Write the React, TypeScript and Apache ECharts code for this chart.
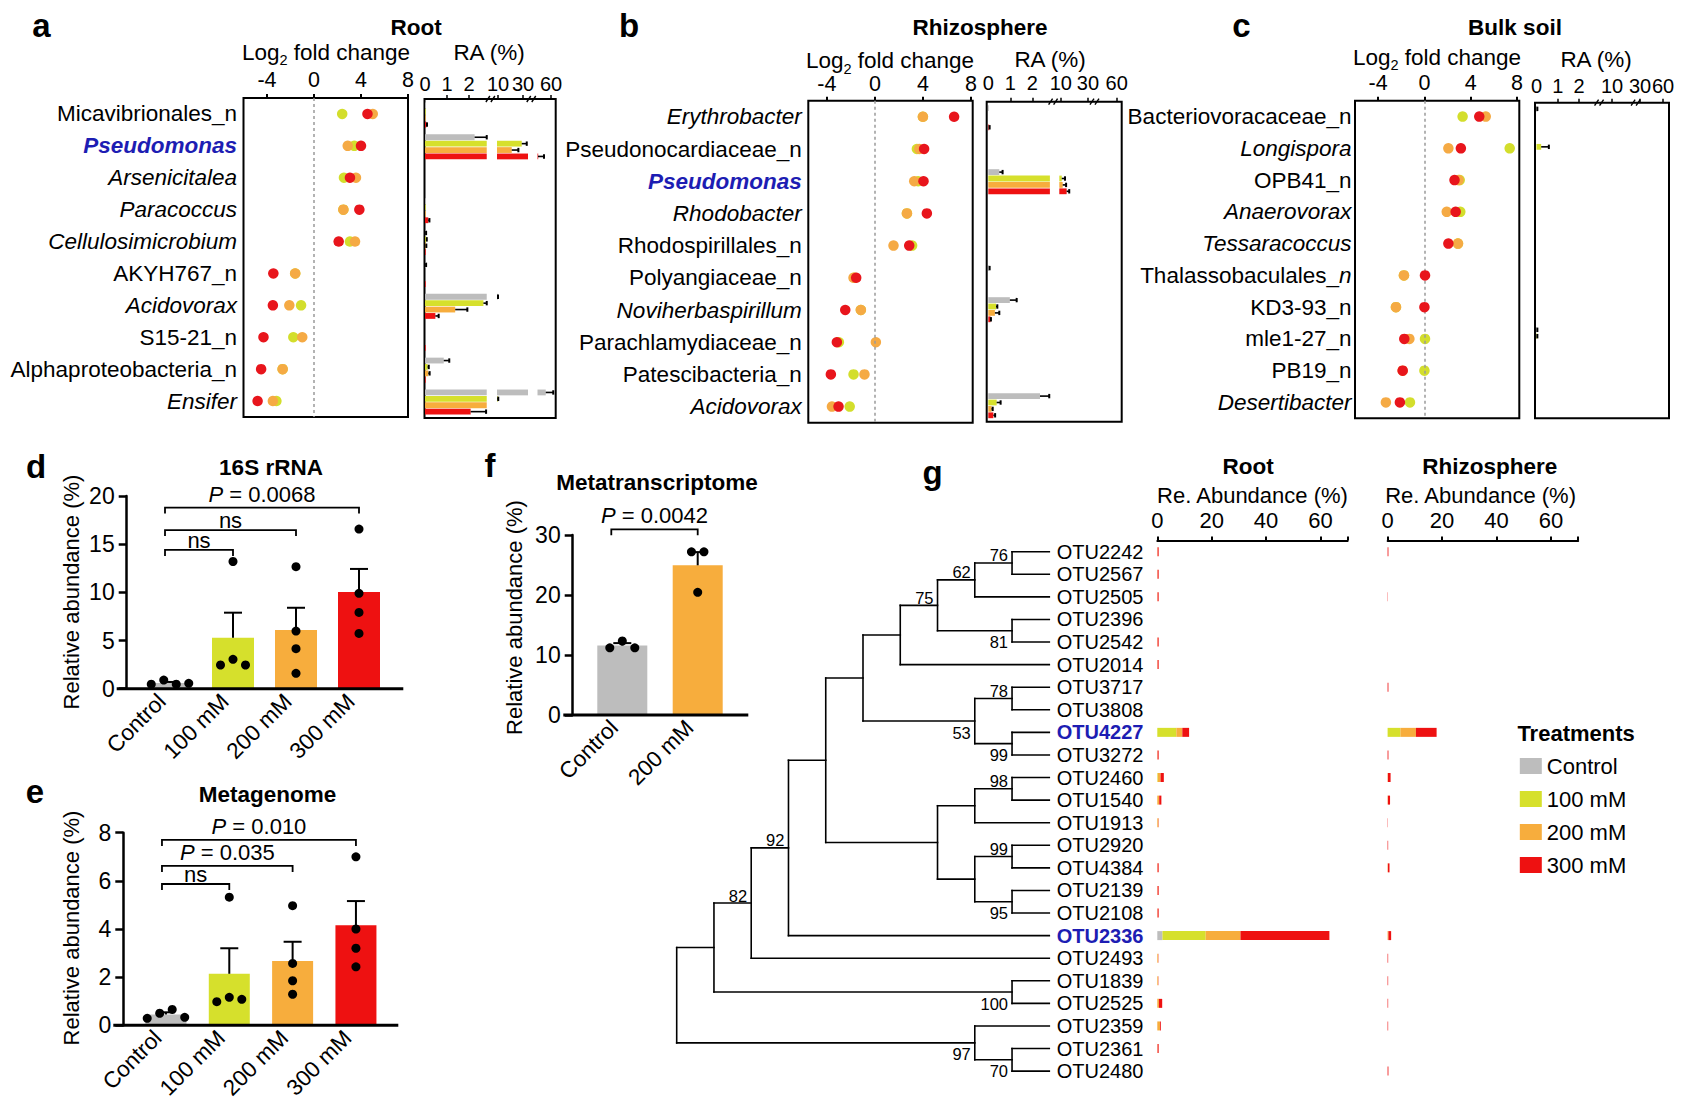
import React, { useEffect, useRef } from 'react';
import * as echarts from 'echarts';

const FONT = '"Liberation Sans", Arial, Helvetica, sans-serif';
const TREAT = ['Control', '100 mM', '200 mM', '300 mM'];
const BAR_COL = ['#BDBDBD', '#D6E02C', '#F7AD3D', '#EE1111'];
const DOT_COL = ['#D3DE2C', '#F5AA44', '#E8151C'];
const BLUE = '#1D1DB3';

// ---------- panel a (Root) ----------
const taxaA = ['Micavibrionales_n', 'Pseudomonas', 'Arsenicitalea', 'Paracoccus', 'Cellulosimicrobium', 'AKYH767_n', 'Acidovorax', 'S15-21_n', 'Alphaproteobacteria_n', 'Ensifer'];
const lfcA_100 = [2.4, 3.43, 2.55, 2.5, 3.06, -1.6, -1.1, -1.76, -2.67, -3.2];
const lfcA_200 = [5.0, 2.87, 3.57, 2.5, 3.49, -1.6, -2.1, -1.0, -2.67, -3.5];
const lfcA_300 = [4.55, 4.0, 3.06, 3.86, 2.1, -3.46, -3.5, -4.3, -4.5, -4.8];
const raA_ctrl = [[0.01, 0], [2.25, 0.55], [0, 0], [0.01, 0], [0.03, 0.02], [0.03, 0.02], [9.5, 0.5], [0, 0], [0.85, 0.25], [55.8, 6.0]];
const raA_100 = [[0.01, 0], [29.0, 4.0], [0, 0], [0.01, 0], [0.05, 0.03], [0, 0], [2.65, 0.15], [0, 0], [0.12, 0.05], [9.6, 0.6]];
const raA_200 = [[0.02, 0.01], [21.0, 5.3], [0, 0], [0.02, 0.01], [0.04, 0.02], [0, 0], [1.37, 0.55], [0, 0], [0.15, 0.06], [6.0, 0]];
const raA_300 = [[0.06, 0.03], [49.6, 4.8], [0, 0], [0.15, 0.05], [0.02, 0.01], [0.01, 0], [0.47, 0.15], [0.01, 0], [0.02, 0.01], [2.07, 0.7]];

// ---------- panel b (Rhizosphere) ----------
const taxaB = ['Erythrobacter', 'Pseudonocardiaceae_n', 'Pseudomonas', 'Rhodobacter', 'Rhodospirillales_n', 'Polyangiaceae_n', 'Noviherbaspirillum', 'Parachlamydiaceae_n', 'Patescibacteria_n', 'Acidovorax'];
const lfcB_100 = [4.0, 3.5, 3.6, 2.67, 3.1, -1.7, -1.17, -3.0, -1.78, -2.1];
const lfcB_200 = [4.0, 3.7, 3.28, 2.67, 1.55, -1.78, -1.17, 0.08, -0.87, -3.58];
const lfcB_300 = [6.6, 4.1, 4.05, 4.33, 2.86, -1.56, -2.47, -3.17, -3.67, -3.03];
const raB_ctrl = [[0.01, 0], [0, 0], [0.5, 0.15], [0, 0], [0, 0], [0.04, 0.02], [0.98, 0.31], [0, 0], [0, 0], [2.35, 0.42]];
const raB_100 = [[0, 0], [0, 0], [10.7, 2.4], [0, 0], [0, 0], [0, 0], [0.35, 0.06], [0, 0], [0, 0], [0.38, 0.18]];
const raB_200 = [[0, 0], [0, 0], [11.4, 2.5], [0, 0], [0, 0], [0, 0], [0.3, 0.2], [0, 0], [0, 0], [0.15, 0.05]];
const raB_300 = [[0.04, 0.02], [0, 0], [14.3, 1.9], [0, 0], [0, 0], [0, 0], [0.1, 0.02], [0, 0], [0, 0], [0.23, 0.08]];

// ---------- panel c (Bulk soil) ----------
const taxaC = ['Bacteriovoracaceae_n', 'Longispora', 'OPB41_n', 'Anaerovorax', 'Tessaracoccus', 'Thalassobaculales_n', 'KD3-93_n', 'mle1-27_n', 'PB19_n', 'Desertibacter'];
const lfcC_100 = [3.3, 7.37, 3.05, 3.1, 2.9, -1.77, -2.46, 0.05, 0, -1.25];
const lfcC_200 = [5.3, 2.07, 2.95, 1.93, 2.9, -1.77, -2.46, -1.3, -1.88, -3.33];
const lfcC_300 = [4.74, 3.15, 2.6, 2.7, 2.07, 0.05, 0, -1.74, -1.88, -2.12];
const raC_ctrl = [[0.02, 0.02], [0, 0], [0, 0], [0, 0], [0, 0], [0, 0], [0, 0], [0.02, 0.02], [0, 0], [0, 0]];
const raC_100 = [[0, 0], [0.22, 0.36], [0, 0], [0, 0], [0, 0], [0, 0], [0, 0], [0.02, 0.02], [0, 0], [0, 0]];
const raC_200 = [[0, 0], [0, 0], [0, 0], [0, 0], [0, 0], [0, 0], [0, 0], [0, 0], [0, 0], [0, 0]];
const raC_300 = [[0, 0], [0, 0], [0, 0], [0, 0], [0, 0], [0, 0], [0, 0], [0, 0], [0, 0], [0, 0]];

const italicTaxa = ['Arsenicitalea', 'Paracoccus', 'Cellulosimicrobium', 'Acidovorax', 'Ensifer', 'Erythrobacter', 'Rhodobacter', 'Noviherbaspirillum', 'Longispora', 'Anaerovorax', 'Tessaracoccus', 'Desertibacter'];
const lfcTicks = [-4, 0, 4, 8];
const raTicks = [0, 1, 2, 10, 30, 60];

// ---------- panel d (16S rRNA) ----------
const dMean = [0.6, 5.29, 6.1, 10.03];
const dSE = [0.1, 2.6, 2.3, 2.4];
const dPts = [[0.46, 0.9, 0.46, 0.56], [2.46, 3.05, 2.46, 13.2], [12.66, 5.98, 4.15, 1.6], [16.57, 9.9, 7.92, 5.74]];
const dBrackets = [{ a: 0, b: 3, y: 18.8, t: 'P = 0.0068' }, { a: 0, b: 2, y: 16.46, t: 'ns' }, { a: 0, b: 1, y: 14.4, t: 'ns' }];

// ---------- panel e (Metagenome) ----------
const eMean = [0.45, 2.14, 2.67, 4.16];
const eSE = [0.09, 1.06, 0.8, 1.0];
const ePts = [[0.29, 0.5, 0.66, 0.33], [0.98, 1.16, 1.08, 5.32], [4.97, 2.57, 1.85, 1.29], [7.0, 4.0, 3.2, 2.43]];
const eBrackets = [{ a: 0, b: 3, y: 7.7, t: 'P = 0.010' }, { a: 0, b: 2, y: 6.62, t: 'P = 0.035' }, { a: 0, b: 1, y: 5.87, t: 'ns' }];

// ---------- panel f (Metatranscriptome) ----------
const fCats = ['Control', '200 mM'];
const fMean = [11.58, 24.95];
const fSE = [0.4, 2.2];
const fPts = [[11.2, 12.33, 11.2], [27.2, 27.2, 20.45]];
const fBrackets = [{ a: 0, b: 1, y: 30.95, t: 'P = 0.0042' }];

// ---------- panel g (tree + abundances) ----------
const treeNewick = '((((((((((OTU2242,OTU2567)76,OTU2505)62,(OTU2396,OTU2542)81)75,OTU2014),((OTU3717,OTU3808)78,(OTU4227,OTU3272)99)53),(((OTU2460,OTU1540)98,OTU1913),((OTU2920,OTU4384)99,(OTU2139,OTU2108)95))),OTU2336)92,OTU2493)82,(OTU1839,OTU2525)100),(OTU2359,(OTU2361,OTU2480)70)97)';
const otuOrder = ['OTU2242', 'OTU2567', 'OTU2505', 'OTU2396', 'OTU2542', 'OTU2014', 'OTU3717', 'OTU3808', 'OTU4227', 'OTU3272', 'OTU2460', 'OTU1540', 'OTU1913', 'OTU2920', 'OTU4384', 'OTU2139', 'OTU2108', 'OTU2336', 'OTU2493', 'OTU1839', 'OTU2525', 'OTU2359', 'OTU2361', 'OTU2480'];
const highlightOtus = ['OTU4227', 'OTU2336'];
const rootCtrl = [0, 0, 0, 0, 0, 0, 0, 0, 0, 0, 0, 0, 0, 0, 0, 0, 0, 1.9, 0, 0, 0, 0, 0, 0];
const root100 = [0, 0, 0, 0, 0, 0, 0, 0, 7.0, 0, 0.2, 0, 0, 0, 0, 0, 0, 15.9, 0, 0, 0, 0, 0, 0];
const root200 = [0.1, 0.1, 0.1, 0, 0.1, 0.1, 0, 0, 2.2, 0.1, 1.0, 0.7, 0.4, 0, 0.1, 0.1, 0.1, 12.8, 0.3, 0.3, 0.6, 1.0, 0.1, 0];
const root300 = [0.4, 0.4, 0.4, 0, 0.4, 0.4, 0, 0, 2.5, 0.4, 1.2, 0.8, 0.1, 0, 0.4, 0.4, 0.4, 32.7, 0.1, 0.1, 1.2, 0.3, 0.4, 0];
const rhizCtrl = [0, 0, 0, 0, 0, 0, 0, 0, 0, 0, 0, 0, 0, 0, 0, 0, 0, 0, 0, 0, 0, 0, 0, 0];
const rhiz100 = [0, 0, 0, 0, 0, 0, 0, 0, 4.7, 0, 0, 0, 0, 0, 0, 0, 0, 0, 0, 0, 0, 0, 0, 0];
const rhiz200 = [0, 0, 0, 0, 0, 0, 0, 0, 5.7, 0, 0.1, 0.1, 0, 0, 0.1, 0, 0, 0.3, 0, 0, 0, 0, 0, 0];
const rhiz300 = [0.3, 0, 0.1, 0, 0, 0, 0.3, 0, 7.6, 0.3, 1.0, 0.8, 0.1, 0.2, 0.6, 0, 0, 1.0, 0.2, 0.2, 0.2, 0.2, 0, 0.3];
const gTicks = [0, 20, 40, 60];

// ---------- helpers ----------
type Seg = { lo: number; hi: number; d0: number; k: number };
function mapRA(v: number, segs: Seg[]) {
  let last = segs[0].d0;
  for (const s of segs) {
    if (v < s.lo) return last;
    if (v <= s.hi) return s.d0 + (v - s.lo) * s.k;
    last = s.d0 + (s.hi - s.lo) * s.k;
  }
  return last;
}
function gapMids(segs: Seg[]) {
  return segs.slice(1).map((s, i) => (segs[i].d0 + (segs[i].hi - segs[i].lo) * segs[i].k + s.d0) / 2);
}
function swarm(vals: number[], thr: number, sp: number) {
  const idx = vals.map((_, i) => i).sort((a, b) => vals[a] - vals[b]);
  const clusters: number[][] = [];
  let cur = [idx[0]];
  for (let k = 1; k < idx.length; k++) {
    if (vals[idx[k]] - vals[idx[k - 1]] <= thr) cur.push(idx[k]);
    else { clusters.push(cur); cur = [idx[k]]; }
  }
  clusters.push(cur);
  const off = vals.map(() => 0);
  clusters.forEach((c) => {
    const s = [...c].sort((a, b) => a - b);
    s.forEach((i, j) => { off[i] = (j - (s.length - 1) / 2) * sp; });
  });
  return off;
}
function parseNewick(s: string) {
  let i = 0;
  const re = /[0-9A-Za-z_]/;
  function node(): any {
    const n: any = { children: [], name: '', label: '' };
    if (s[i] === '(') {
      i++;
      n.children.push(node());
      while (s[i] === ',') { i++; n.children.push(node()); }
      i++;
      let lab = '';
      while (i < s.length && re.test(s[i])) lab += s[i++];
      n.label = lab;
    } else {
      let nm = '';
      while (i < s.length && re.test(s[i])) nm += s[i++];
      n.name = nm;
    }
    return n;
  }
  return node();
}
function measure(text: string, size: number, weight = 'normal') {
  const c = document.createElement('canvas').getContext('2d')!;
  c.font = `${weight} ${size}px "Liberation Sans"`;
  return c.measureText(text).width;
}
function txt(x: number, y: number, text: string, o: any = {}) {
  const align = o.align ?? 'center';
  const va = o.va ?? 'middle';
  return {
    type: 'text', x, y, rotation: o.rot ?? 0, silent: true, z: 100,
    style: {
      text, fontSize: o.size ?? 22.5, fontFamily: FONT, fontWeight: o.bold ? 'bold' : 'normal',
      fontStyle: o.italic ? 'italic' : 'normal', fill: o.color ?? '#000',
      align, verticalAlign: va, textAlign: align, textVerticalAlign: va,
    },
  };
}
function log2Label(cx: number, cy: number) {
  const s = 22.5, ss = 14.5;
  const w1 = measure('Log', s), w2 = measure('2', ss), w3 = measure(' fold change', s);
  const x0 = cx - (w1 + w2 + w3) / 2;
  return [
    txt(x0, cy, 'Log', { align: 'left', size: s }),
    txt(x0 + w1, cy + 8, '2', { align: 'left', size: ss }),
    txt(x0 + w1 + w2, cy, ' fold change', { align: 'left', size: s }),
  ];
}
const LBL = 22.5;
const fmtTaxon = (v: string) => {
  if (v === 'Pseudomonas') return `{ps|${v}}`;
  if (v === 'Thalassobaculales_n') return 'Thalassobaculales_{it|n}';
  if (italicTaxa.includes(v)) return `{it|${v}}`;
  return v;
};
const taxonRich = {
  it: { fontStyle: 'italic', fontSize: LBL, fontFamily: FONT, color: '#000' },
  ps: { fontStyle: 'italic', fontWeight: 'bold', fontSize: LBL, fontFamily: FONT, color: BLUE },
};

function buildOption() {
  const segA: Seg[] = [{ lo: 0, hi: 2.8, d0: 0.5, k: 22.05 }, { lo: 9.2, hi: 34, d0: 72.5, k: 1.25 }, { lo: 49.2, hi: 66, d0: 113, k: 1.25 }];
  const segB: Seg[] = [{ lo: 0, hi: 2.8, d0: 1.6, k: 22 }, { lo: 8.9, hi: 32.9, d0: 72.6, k: 1.36 }, { lo: 47.7, hi: 62, d0: 113.3, k: 1.36 }];
  const segC: Seg[] = [{ lo: 0, hi: 2.8, d0: 1.5, k: 21.3 }, { lo: 5.5, hi: 24, d0: 70, k: 1.58 }, { lo: 30, hi: 66, d0: 105, k: 0.767 }];

  const gridDefs: any[] = [
    { left: 243.5, top: 98, width: 164.5, height: 319, show: true },
    { left: 424.5, top: 99, width: 131.2, height: 319, show: true },
    { left: 808.3, top: 100.7, width: 164.4, height: 322, show: true },
    { left: 986.7, top: 101.7, width: 135, height: 320, show: true },
    { left: 1355, top: 100.7, width: 164.3, height: 317.6, show: true },
    { left: 1535, top: 102.7, width: 134, height: 315.6, show: true },
    { left: 138.5, top: 496, width: 252, height: 192.7 },
    { left: 134.3, top: 832.7, width: 253.3, height: 192.6 },
    { left: 584.6, top: 535, width: 150.8, height: 180 },
    { left: 676.7, top: 540.4, width: 372.6, height: 542 },
    { left: 1157.3, top: 540.4, width: 190.3, height: 542 },
    { left: 1387.6, top: 540.4, width: 190.6, height: 542 },
  ];
  const grid = gridDefs.map((g) => ({
    containLabel: false, outerBoundsMode: 'none', borderColor: '#000', borderWidth: 2,
    backgroundColor: 'transparent', ...g, show: !!g.show,
  }));

  const xAxis: any[] = [];
  const yAxis: any[] = [];
  const series: any[] = [];

  // ----- LFC panels -----
  const lfcX = (gi: number, min: number, max: number, margin: number) => ({
    gridIndex: gi, type: 'value', position: 'top', min, max,
    axisLine: { show: false }, splitLine: { show: false },
    axisTick: { show: true, inside: false, length: 4, lineStyle: { color: '#000', width: 2 }, customValues: lfcTicks },
    axisLabel: { customValues: lfcTicks, fontSize: 21.5, fontFamily: FONT, color: '#000', margin, hideOverlap: false },
  });
  const lfcY = (gi: number, taxa: string[], margin: number) => ({
    gridIndex: gi, type: 'category', data: taxa, inverse: true,
    axisLine: { show: false }, axisTick: { show: false }, splitLine: { show: false },
    axisLabel: { interval: 0, fontSize: LBL, fontFamily: FONT, color: '#000', margin, formatter: fmtTaxon, rich: taxonRich },
  });
  const raX = (gi: number, segs: Seg[], margin: number) => {
    const vals = raTicks.map((t) => mapRA(t, segs));
    return {
      gridIndex: gi, type: 'value', position: 'top', min: 0, max: gridDefs[gi].width,
      axisLine: { show: false }, splitLine: { show: false },
      axisTick: { show: true, inside: false, length: 4, lineStyle: { color: '#000', width: 1.5 }, customValues: vals.slice(1) },
      axisLabel: {
        customValues: vals, fontSize: 20, fontFamily: FONT, color: '#000', margin, hideOverlap: false,
        formatter: (v: number) => { const i = vals.findIndex((d) => Math.abs(d - v) < 0.01); return i >= 0 ? String(raTicks[i]) : ''; },
      },
    };
  };
  const raY = (gi: number, taxa: string[]) => ({ gridIndex: gi, type: 'category', data: taxa, inverse: true, show: false });

  const lfcSeries = (ax: number, arrs: number[][]) =>
    arrs.map((vals, t) => {
      const s: any = {
        type: 'scatter', xAxisIndex: ax, yAxisIndex: ax, symbolSize: 10.5, z: 3 + t,
        itemStyle: { color: DOT_COL[t], opacity: 1 }, data: vals.map((v, i) => [v, i]),
      };
      if (t === 0) {
        s.markLine = {
          silent: true, symbol: 'none', label: { show: false }, animation: false,
          lineStyle: { color: '#9A9A9A', type: [3, 3], width: 1.5 }, data: [{ xAxis: 0 }],
        };
      }
      return s;
    });

  const raSeries = (ax: number, segs: Seg[], arrs: number[][][]) => {
    const data: number[][] = [];
    arrs.forEach((arr, t) => arr.forEach(([m, se], row) => { if (m > 0 || se > 0) data.push([m, row, t, se]); }));
    return [
      {
        type: 'custom', xAxisIndex: ax, yAxisIndex: ax, data, z: 3,
        renderItem: (params: any, api: any) => {
          const m = api.value(0), row = api.value(1), t = api.value(2), se = api.value(3);
          const yc = api.coord([0, row])[1] + (t - 1.5) * 6.4;
          const ch: any[] = [];
          for (const s of segs) {
            if (m <= s.lo) break;
            const d1 = s.d0 + (Math.min(m, s.hi) - s.lo) * s.k;
            const p0 = api.coord([s.d0, row])[0], p1 = api.coord([d1, row])[0];
            ch.push({ type: 'rect', shape: { x: p0, y: yc - 2.9, width: Math.max(p1 - p0, 0.7), height: 5.8 }, style: { fill: BAR_COL[t] } });
          }
          if (se > 0) {
            const a = api.coord([mapRA(m, segs), row])[0], b = api.coord([mapRA(m + se, segs), row])[0];
            if (b - a > 0.3) {
              ch.push({ type: 'line', shape: { x1: a, y1: yc, x2: b, y2: yc }, style: { stroke: '#000', lineWidth: 1.6 } });
              ch.push({ type: 'line', shape: { x1: b, y1: yc - 2.2, x2: b, y2: yc + 2.2 }, style: { stroke: '#000', lineWidth: 2 } });
            }
          }
          return { type: 'group', children: ch };
        },
      },
      {
        type: 'custom', xAxisIndex: ax, yAxisIndex: ax, z: 4, data: gapMids(segs).map((g) => [g, 0]),
        renderItem: (params: any, api: any) => {
          const x = api.coord([api.value(0), 0])[0];
          const y = params.coordSys.y;
          return {
            type: 'group', children: [
              { type: 'line', shape: { x1: x - 6, y1: y + 3, x2: x - 2, y2: y - 3 }, style: { stroke: '#000', lineWidth: 1.4 } },
              { type: 'line', shape: { x1: x - 1, y1: y + 3, x2: x + 3, y2: y - 3 }, style: { stroke: '#000', lineWidth: 1.4 } },
            ],
          };
        },
      },
    ];
  };

  xAxis.push(lfcX(0, -6, 8, 7)); yAxis.push(lfcY(0, taxaA, 6.5));
  xAxis.push(raX(1, segA, 5)); yAxis.push(raY(1, taxaA));
  xAxis.push(lfcX(2, -5.55, 8.15, 5.7)); yAxis.push(lfcY(2, taxaB, 6.6));
  xAxis.push(raX(3, segB, 8.4)); yAxis.push(raY(3, taxaB));
  xAxis.push(lfcX(4, -6, 8.2, 7.2)); yAxis.push(lfcY(4, taxaC, 3.5));
  xAxis.push(raX(5, segC, 7)); yAxis.push(raY(5, taxaC));

  series.push(...lfcSeries(0, [lfcA_100, lfcA_200, lfcA_300]));
  series.push(...raSeries(1, segA, [raA_ctrl, raA_100, raA_200, raA_300]));
  series.push(...lfcSeries(2, [lfcB_100, lfcB_200, lfcB_300]));
  series.push(...raSeries(3, segB, [raB_ctrl, raB_100, raB_200, raB_300]));
  series.push(...lfcSeries(4, [lfcC_100, lfcC_200, lfcC_300]));
  series.push(...raSeries(5, segC, [raC_ctrl, raC_100, raC_200, raC_300]));

  // ----- bar panels d, e, f -----
  const barPanel = (ax: number, cats: string[], means: number[], ses: number[], pts: number[][], colors: string[],
    brackets: any[], ymax: number, interval: number, offset: number, barW: number, extL: number, extR: number, brL: number) => {
    xAxis.push({
      gridIndex: ax, type: 'category', data: cats,
      axisLine: { show: false }, axisTick: { show: false }, splitLine: { show: false },
      axisLabel: { interval: 0, rotate: 45, fontSize: 22.5, fontFamily: FONT, color: '#000', margin: 17, verticalAlign: 'bottom' },
    });
    yAxis.push({
      gridIndex: ax, type: 'value', min: 0, max: ymax, interval, offset,
      axisLine: { show: true, lineStyle: { color: '#000', width: 2.5 } },
      axisTick: { show: true, inside: false, length: 8, lineStyle: { color: '#000', width: 2.5 } },
      axisLabel: { fontSize: 23, fontFamily: FONT, color: '#000', margin: 12 },
      splitLine: { show: false },
    });
    const scat: any[] = [];
    pts.forEach((arr, ci) => {
      const off = swarm(arr, ymax * 0.04, 12.5);
      arr.forEach((v, k) => scat.push({ value: [ci, v], symbolOffset: [off[k], 0] }));
    });
    series.push(
      {
        type: 'bar', xAxisIndex: ax, yAxisIndex: ax, barWidth: barW, z: 2,
        data: means.map((m, i) => ({ value: m, itemStyle: { color: colors[i] } })),
      },
      {
        type: 'custom', xAxisIndex: ax, yAxisIndex: ax, z: 3,
        data: means.map((m, i) => [i, m, ses[i]]),
        renderItem: (params: any, api: any) => {
          const i = api.value(0), m = api.value(1), se = api.value(2);
          const p0 = api.coord([i, m]), p1 = api.coord([i, m + se]);
          return {
            type: 'group', children: [
              { type: 'line', shape: { x1: p0[0], y1: p0[1], x2: p1[0], y2: p1[1] }, style: { stroke: '#000', lineWidth: 2 } },
              { type: 'line', shape: { x1: p1[0] - 9, y1: p1[1], x2: p1[0] + 9, y2: p1[1] }, style: { stroke: '#000', lineWidth: 2 } },
            ],
          };
        },
      },
      {
        type: 'scatter', xAxisIndex: ax, yAxisIndex: ax, symbolSize: 9, z: 5,
        itemStyle: { color: '#000', opacity: 1 }, data: scat,
      },
      {
        type: 'custom', xAxisIndex: ax, yAxisIndex: ax, z: 6,
        data: brackets.map((b) => [b.a, b.y]),
        renderItem: (params: any, api: any) => {
          const b = brackets[params.dataIndex];
          const pa = api.coord([b.a, b.y]), pb = api.coord([b.b, b.y]);
          const y = pa[1];
          const xl = pa[0] - brL;
          const isP = b.t.startsWith('P');
          const text = isP ? `{i|P}${b.t.slice(1)}` : b.t;
          return {
            type: 'group', children: [
              { type: 'polyline', shape: { points: [[xl, y + 6], [xl, y], [pb[0], y], [pb[0], y + 6]] }, style: { stroke: '#000', lineWidth: 1.8, fill: 'none' } },
              {
                type: 'text', x: (xl + pb[0]) / 2, y: y - (isP ? 13.5 : 9.5),
                style: {
                  text, fontSize: 22, fontFamily: FONT, fill: '#000', align: 'center', verticalAlign: 'middle',
                  textAlign: 'center', textVerticalAlign: 'middle',
                  rich: { i: { fontStyle: 'italic', fontSize: 22, fontFamily: FONT, fill: '#000', color: '#000' } },
                },
              },
            ],
          };
        },
      },
      {
        type: 'custom', xAxisIndex: ax, yAxisIndex: ax, z: 4, data: [[0, 0]],
        renderItem: (params: any) => {
          const cs = params.coordSys;
          const y = cs.y + cs.height;
          return { type: 'line', shape: { x1: cs.x - extL, y1: y, x2: cs.x + cs.width + extR, y2: y }, style: { stroke: '#000', lineWidth: 3 } };
        },
      },
    );
  };
  barPanel(6, TREAT, dMean, dSE, dPts, BAR_COL, dBrackets, 20, 5, 11.8, 42, 21.8, 12.8, 5);
  barPanel(7, TREAT, eMean, eSE, ePts, BAR_COL, eBrackets, 8, 2, 11, 41, 21, 10.7, 4);
  barPanel(8, fCats, fMean, fSE, fPts, [BAR_COL[0], BAR_COL[2]], fBrackets, 30, 10, 11.9, 50, 21.3, 12.9, 11);

  // ----- tree -----
  const root = parseNewick(treeNewick);
  const leaves: any[] = [];
  const internals: any[] = [];
  const lay = (n: any, parent: any) => {
    n.parent = parent;
    if (!n.children.length) { n.h = 0; n.y = leaves.length; leaves.push(n); return; }
    n.children.forEach((c: any) => lay(c, n));
    n.h = Math.max(...n.children.map((c: any) => c.h)) + 1;
    n.y = (n.children[0].y + n.children[n.children.length - 1].y) / 2;
    internals.push(n);
  };
  lay(root, null);
  const maxH = root.h;
  const xOf = (n: any) => maxH - n.h;
  const edges: number[][] = [];
  internals.forEach((n) => {
    const c0 = n.children[0], c1 = n.children[n.children.length - 1];
    edges.push([xOf(n), c0.y, xOf(n), c1.y]);
    n.children.forEach((c: any) => edges.push([xOf(n), c.y, xOf(c), c.y]));
  });
  const supports = internals.filter((n) => n.label);
  xAxis.push({ gridIndex: 9, type: 'value', min: 0, max: maxH, show: false });
  yAxis.push({ gridIndex: 9, type: 'value', min: -0.5, max: leaves.length - 0.5, inverse: true, show: false });
  series.push(
    {
      type: 'custom', xAxisIndex: 9, yAxisIndex: 9, z: 3, data: edges,
      renderItem: (params: any, api: any) => {
        const p1 = api.coord([api.value(0), api.value(1)]), p2 = api.coord([api.value(2), api.value(3)]);
        return { type: 'line', shape: { x1: p1[0], y1: p1[1], x2: p2[0], y2: p2[1] }, style: { stroke: '#000', lineWidth: 1.6, lineCap: 'square' } };
      },
    },
    {
      type: 'custom', xAxisIndex: 9, yAxisIndex: 9, z: 4,
      data: supports.map((n) => [xOf(n), n.y]),
      renderItem: (params: any, api: any) => {
        const n = supports[params.dataIndex];
        const p = api.coord([api.value(0), api.value(1)]);
        const above = n.parent && n.parent.children[0] === n;
        const va = above ? 'bottom' : 'top';
        return {
          type: 'text', x: p[0] - 4, y: above ? p[1] + 1 : p[1] + 3,
          style: { text: n.label, fontSize: 16.5, fontFamily: FONT, fill: '#000', align: 'right', verticalAlign: va, textAlign: 'right', textVerticalAlign: va },
        };
      },
    },
    {
      type: 'custom', xAxisIndex: 9, yAxisIndex: 9, z: 4,
      data: leaves.map((n) => [maxH, n.y]),
      renderItem: (params: any, api: any) => {
        const n = leaves[params.dataIndex];
        const p = api.coord([api.value(0), api.value(1)]);
        const hl = highlightOtus.includes(n.name);
        return {
          type: 'text', x: p[0] + 7.4, y: p[1],
          style: {
            text: n.name, fontSize: 20, fontFamily: FONT, fontWeight: hl ? 'bold' : 'normal', fill: hl ? BLUE : '#000',
            align: 'left', verticalAlign: 'middle', textAlign: 'left', textVerticalAlign: 'middle',
          },
        };
      },
    },
  );

  // ----- g abundance bars -----
  const gAxes = (gi: number) => {
    xAxis.push({
      gridIndex: gi, type: 'value', position: 'top', min: 0, max: 70,
      axisLine: { show: true, lineStyle: { color: '#000', width: 2 } }, splitLine: { show: false },
      axisTick: { show: true, inside: false, length: 4, lineStyle: { color: '#000', width: 2 }, customValues: [...gTicks, 70] },
      axisLabel: { customValues: gTicks, fontSize: 22, fontFamily: FONT, color: '#000', margin: 9 },
    });
    yAxis.push({ gridIndex: gi, type: 'category', data: otuOrder, inverse: true, show: false });
  };
  gAxes(10);
  gAxes(11);
  const gBars = (ax: number, arrs: number[][], stack: string) =>
    arrs.map((arr, t) => ({
      type: 'bar', name: TREAT[t], xAxisIndex: ax, yAxisIndex: ax, stack, barWidth: 9, z: 2,
      itemStyle: { color: BAR_COL[t] }, data: arr,
    }));
  series.push(...gBars(10, [rootCtrl, root100, root200, root300], 'root'));
  series.push(...gBars(11, [rhizCtrl, rhiz100, rhiz200, rhiz300], 'rhizo'));

  // ----- texts -----
  const graphic: any[] = [
    txt(41.5, 25.6, 'a', { size: 33, bold: true }),
    txt(629, 25.6, 'b', { size: 33, bold: true }),
    txt(1241.5, 25.6, 'c', { size: 33, bold: true }),
    txt(36, 466.6, 'd', { size: 33, bold: true }),
    txt(35, 791.6, 'e', { size: 33, bold: true }),
    txt(490, 465.6, 'f', { size: 33, bold: true }),
    txt(932.5, 472.2, 'g', { size: 33, bold: true }),
    txt(416, 27, 'Root', { bold: true }),
    txt(980, 27, 'Rhizosphere', { bold: true }),
    txt(1515, 27, 'Bulk soil', { bold: true }),
    ...log2Label(326, 52),
    ...log2Label(890, 60.5),
    ...log2Label(1437, 57.2),
    txt(489, 52, 'RA (%)'),
    txt(1050, 59, 'RA (%)'),
    txt(1596, 59, 'RA (%)'),
    txt(271, 467.5, '16S rRNA', { bold: true }),
    txt(267.5, 794, 'Metagenome', { bold: true }),
    txt(657, 482, 'Metatranscriptome', { bold: true }),
    txt(71.7, 592, 'Relative abundance (%)', { size: 22, rot: Math.PI / 2 }),
    txt(71.7, 928, 'Relative abundance (%)', { size: 22, rot: Math.PI / 2 }),
    txt(514, 617.5, 'Relative abundance (%)', { size: 22, rot: Math.PI / 2 }),
    txt(1248, 466.5, 'Root', { bold: true }),
    txt(1489.7, 466.5, 'Rhizosphere', { bold: true }),
    txt(1252.5, 495.5, 'Re. Abundance (%)', { size: 22 }),
    txt(1480.6, 495.5, 'Re. Abundance (%)', { size: 22 }),
    txt(1517.4, 733, 'Treatments', { bold: true, align: 'left', size: 22 }),
  ];

  return {
    animation: false,
    backgroundColor: '#fff',
    textStyle: { fontFamily: FONT, color: '#000' },
    grid, xAxis, yAxis, series, graphic,
    legend: {
      data: TREAT, orient: 'vertical', left: 1519.8, top: 755, padding: 0,
      itemWidth: 22, itemHeight: 16, itemGap: 11, icon: 'rect', selectedMode: false,
      textStyle: { fontSize: 22, fontFamily: FONT, color: '#000' },
    },
  };
}

export default function App() {
  const ref = useRef<HTMLDivElement>(null);
  useEffect(() => {
    const chart = echarts.init(ref.current!, null, { renderer: 'svg' });
    chart.setOption(buildOption() as any);
    return () => chart.dispose();
  }, []);
  return <div ref={ref} style={{ position: 'absolute', left: 0, top: 0, width: 1683, height: 1101, background: '#fff' }} />;
}
